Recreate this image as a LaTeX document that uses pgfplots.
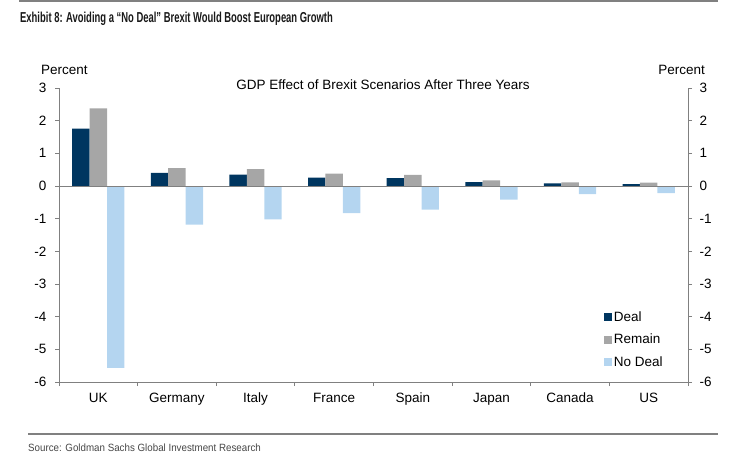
\documentclass[border=0pt]{standalone}
\usepackage{fontspec}
\setmainfont{Liberation Sans}
\newfontfamily\condfont[FakeStretch=0.655]{Liberation Sans}
\newfontfamily\srcfont[FakeStretch=0.93]{Liberation Sans}
\usepackage{pgfplots}
\pgfplotsset{compat=1.18}
\definecolor{deal}{RGB}{0,54,96}
\definecolor{remain}{RGB}{166,166,166}
\definecolor{nodeal}{RGB}{180,213,240}
\definecolor{axisgray}{RGB}{128,128,128}
\newcommand{\fs}{\fontsize{13.5}{16}\selectfont}
\begin{document}
\begin{tikzpicture}[x=1pt,y=1pt]
\useasboundingbox (0pt,0pt) rectangle (744pt,458pt);
% frame lines
\draw[axisgray, line width=1.5pt] (19pt,457pt) -- (718pt,457pt);
\draw[axisgray, line width=1.5pt] (28pt,24pt) -- (718pt,24pt);
\node[anchor=base west, inner sep=0pt, text={rgb,255:red,25;green,25;blue,25}] at (20pt,435pt) {\condfont\bfseries\fontsize{14.4}{17}\selectfont Exhibit 8: Avoiding a “No Deal” Brexit Would Boost European Growth};
\node[anchor=base west, inner sep=0pt, text={rgb,255:red,70;green,70;blue,70}] at (28pt,7pt) {\srcfont\fontsize{10.5}{13}\selectfont Source: Goldman Sachs Global Investment Research};
\node[anchor=base, inner sep=0pt] at (383pt,368pt) {\fs GDP Effect of Brexit Scenarios After Three Years};
\node[anchor=base west, inner sep=0pt] at (41pt,383pt) {\fs Percent};
\node[anchor=base east, inner sep=0pt] at (705pt,383pt) {\fs Percent};

\begin{axis}[
  at={(59pt,76pt)}, anchor=south west,
  scale only axis, width=629pt, height=294pt,
  xmin=-0.5, xmax=7.5, ymin=-6, ymax=3,
  ybar, bar width=17.4pt,
  axis x line*=bottom, axis y line*=left,
  axis line style={draw=axisgray, line width=1pt},
  tick align=outside,
  xtick={0,...,7},
  xticklabels={UK,Germany,Italy,France,Spain,Japan,Canada,US},
  major x tick style={draw=none},
  minor xtick={-0.5,0.5,...,7.5},
  minor tick length=4pt,
  major tick length=4pt,
  every tick/.style={axisgray, line width=0.8pt},
  ytick={-6,...,3},
  yticklabels={-6,-5,-4,-3,-2,-1,0,1,2,3},
  tick label style={font=\fs},
  yticklabel style={xshift=-5pt},
  xticklabel style={yshift=-3pt, text height=10pt, text depth=3pt},
  legend style={at={(0.866,0.248)}, anchor=north west, draw=none, fill=none,
    font=\fs, row sep=7.5pt, inner sep=0pt},
  legend cell align=left,
  legend image code/.code={\fill[#1] (0pt,-4pt) rectangle (8pt,4pt);},
]
\addplot[fill=deal, draw=none, bar shift=-17.4pt] coordinates {(0,1.76) (1,0.40) (2,0.35) (3,0.26) (4,0.24) (5,0.12) (6,0.08) (7,0.06)};
\addplot[fill=remain, draw=none, bar shift=0pt] coordinates {(0,2.38) (1,0.55) (2,0.52) (3,0.38) (4,0.34) (5,0.17) (6,0.11) (7,0.10)};
\addplot[fill=nodeal, draw=none, bar shift=17.4pt] coordinates {(0,-5.57) (1,-1.18) (2,-1.02) (3,-0.83) (4,-0.72) (5,-0.42) (6,-0.25) (7,-0.22)};
\legend{Deal,Remain,No Deal}
\draw[axisgray, line width=1pt] (axis cs:-0.5,0) -- (axis cs:7.5,0);
\end{axis}

\begin{axis}[
  at={(59pt,76pt)}, anchor=south west,
  scale only axis, width=629pt, height=294pt,
  xmin=-0.5, xmax=7.5, ymin=-6, ymax=3,
  axis x line=none, axis y line*=right,
  axis line style={draw=axisgray, line width=1pt},
  tick align=outside,
  major tick length=4pt,
  every tick/.style={axisgray, line width=0.8pt},
  ytick={-6,...,3},
  yticklabels={-6,-5,-4,-3,-2,-1,0,1,2,3},
  tick label style={font=\fs},
  yticklabel style={xshift=4pt},
]
\addplot[draw=none] coordinates {(0,0)};
\end{axis}
\end{tikzpicture}
\end{document}
